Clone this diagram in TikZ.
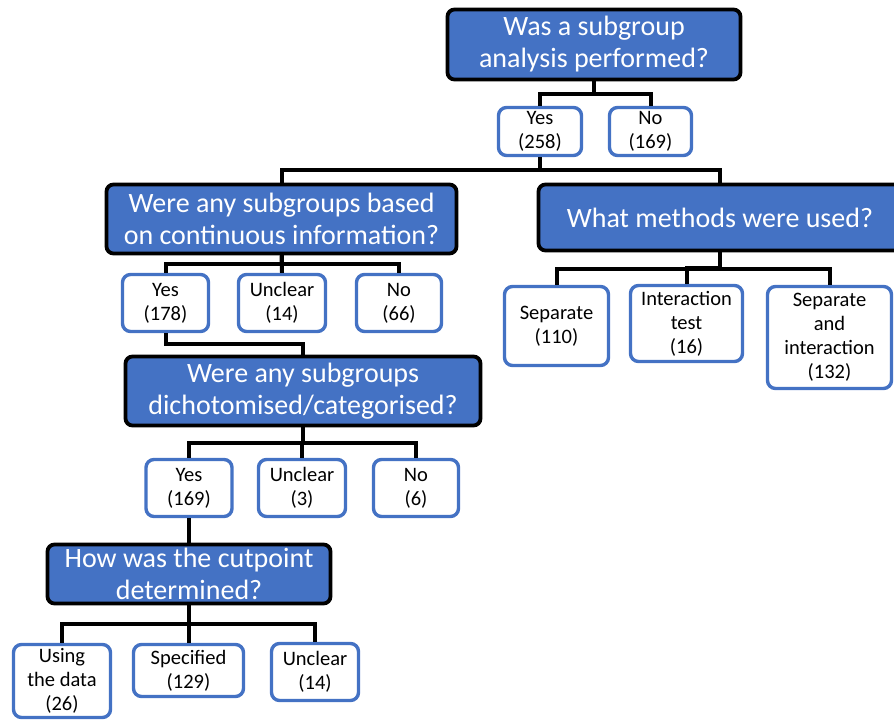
\documentclass[tikz,border=0pt]{standalone}
\usepackage{fontspec}
\setmainfont{Carlito}
\usetikzlibrary{calc}
\definecolor{qblue}{HTML}{4472C4}

\begin{document}
\begin{tikzpicture}[x=1pt, y=-1pt,
  question/.style={draw=black, line width=3.8pt, fill=qblue, rounded corners=7pt, text=white, align=center, inner sep=0pt, font=\fontsize{28}{32}\selectfont},
  answer/.style={draw=qblue, line width=3.4pt, fill=white, rounded corners=8pt, align=center, inner sep=0pt, font=\fontsize{20.5}{24}\selectfont},
  link/.style={draw=black, line width=4pt}]
  \useasboundingbox (0,0) rectangle (894,720);

  \node[name=root, question, minimum width=293pt, minimum height=70pt] at (594,44.5) {Was a subgroup\\analysis performed?};
  \node[name=y258, answer, minimum width=83pt, minimum height=48pt] at (540,131.5) {Yes\\(258)};
  \node[name=n169, answer, minimum width=82pt, minimum height=48pt] at (650.5,131.5) {No\\(169)};

  \node[name=cont, question, minimum width=350pt, minimum height=69pt] at (281.5,219) {Were any subgroups based\\on continuous information?};
  \node[name=meth, question, minimum width=363pt, minimum height=66pt] at (720,217.5) {What methods were used?};

  \node[name=cyes, answer, minimum width=86pt, minimum height=57pt] at (165.5,303) {Yes\\(178)};
  \node[name=cunc, answer, minimum width=87pt, minimum height=57pt] at (282,303) {Unclear\\(14)};
  \node[name=cno, answer, minimum width=85pt, minimum height=57pt] at (399,303) {No\\(66)};

  \node[name=msep, answer, minimum width=104pt, minimum height=79pt] at (556.5,326) {Separate\\(110)};
  \node[name=mint, answer, minimum width=112pt, minimum height=76pt] at (686.5,323.5) {Interaction\\test\\(16)};
  \node[name=mboth, answer, minimum width=124pt, minimum height=102pt] at (829.5,337.5) {Separate\\and\\interaction\\(132)};

  \node[name=dich, question, minimum width=355pt, minimum height=69pt] at (303,391) {Were any subgroups\\dichotomised/categorised?};
  \node[name=dyes, answer, minimum width=86pt, minimum height=57pt] at (189,488) {Yes\\(169)};
  \node[name=dunc, answer, minimum width=87pt, minimum height=57pt] at (302,488) {Unclear\\(3)};
  \node[name=dno, answer, minimum width=85pt, minimum height=57pt] at (416,488) {No\\(6)};

  \node[name=cut, question, minimum width=283pt, minimum height=59pt] at (189,574) {How was the cutpoint\\determined?};
  \node[name=udata, answer, minimum width=97pt, minimum height=73pt] at (62,681) {Using\\the data\\(26)};
  \node[name=uspec, answer, minimum width=110pt, minimum height=52pt] at (188.5,670.5) {Specified\\(129)};
  \node[name=uunc, answer, minimum width=87pt, minimum height=57pt] at (315,672) {Unclear\\(14)};

  \draw[link] (root.south) |- ($(root.south)!.5!(y258.north)$) -| (y258.north);
  \draw[link] (root.south) |- ($(root.south)!.5!(n169.north)$) -| (n169.north);
  \draw[link] (y258.south) |- ($(y258.south)!.5!(cont.north)$) -| (cont.north);
  \draw[link] (y258.south) |- ($(y258.south)!.5!(meth.north)$) -| (meth.north);
  \draw[link] (cont.south) |- ($(cont.south)!.5!(cyes.north)$) -| (cyes.north);
  \draw[link] (cont.south) -- (cunc.north);
  \draw[link] (cont.south) |- ($(cont.south)!.5!(cno.north)$) -| (cno.north);
  \draw[link] (meth.south) |- ($(meth.south)!.5!(msep.north)$) -| (msep.north);
  \draw[link] (meth.south) |- ($(meth.south)!.5!(mint.north)$) -| (mint.north);
  \draw[link] (meth.south) |- ($(meth.south)!.5!(mboth.north)$) -| (mboth.north);
  \draw[link] (cyes.south) |- ($(cyes.south)!.5!(dich.north)$) -| (dich.north);
  \draw[link] (dich.south) |- ($(dich.south)!.5!(dyes.north)$) -| (dyes.north);
  \draw[link] (dich.south) |- ($(dich.south)!.5!(dunc.north)$) -| (dunc.north);
  \draw[link] (dich.south) |- ($(dich.south)!.5!(dno.north)$) -| (dno.north);
  \draw[link] (dyes.south) -- (cut.north);
  \draw[link] (cut.south) |- ($(cut.south)!.5!(udata.north)$) -| (udata.north);
  \draw[link] (cut.south) |- ($(cut.south)!.5!(uspec.north)$) -| (uspec.north);
  \draw[link] (cut.south) |- ($(cut.south)!.5!(uunc.north)$) -| (uunc.north);

\end{tikzpicture}
\end{document}
